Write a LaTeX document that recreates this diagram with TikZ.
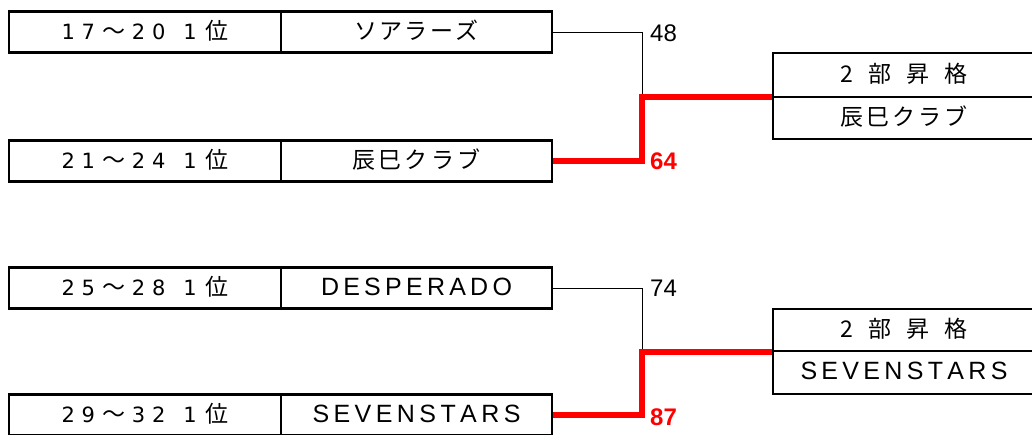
\documentclass[tikz,border=0pt]{standalone}
\usepackage{fontspec}
\setmainfont{Liberation Sans}
\newfontfamily\jpf{Noto Sans CJK JP}
\newfontfamily\dvf{DejaVu Sans}
\newcommand\J[1]{{\jpf\fontsize{23}{23}\selectfont #1}}
\newcommand\spread[2]{\makebox[#1pt][s]{#2}}
\def\g{\hfil\relax}
\begin{document}
\begin{tikzpicture}[x=1pt,y=-1pt,
  cell/.style={draw=black, line width=2.5pt, minimum height=41pt, inner sep=0pt,
    font=\fontsize{25}{25}\selectfont, text height=15pt, text depth=1pt},
  rank/.style={cell, minimum width=272pt, font=\dvf\fontsize{21}{21}\selectfont},
  team/.style={cell, minimum width=271pt},
  res/.style={cell, minimum width=262pt},
  thinline/.style={draw=black, line width=1pt},
  win/.style={draw=red, line width=5.5pt},
  score/.style={font=\fontsize{24}{24}\selectfont, anchor=west, inner sep=0pt},
  wscore/.style={score, text=red, font=\bfseries\fontsize{24}{24}\selectfont},
]
\useasboundingbox (0,0) rectangle (1032,434);

% ---- upper bracket
\node[rank] (r1) at (145,32) {\spread{104}{1\g 7\g \J{〜}\g 2\g 0}\hspace{18pt}\spread{45}{1\g \J{位}}};
\node[team] (t1) at (416.5,32) {\spread{125}{\J{ソ\g ア\g ラ\g ー\g ズ}}};
\node[rank] (r2) at (145,161) {\spread{104}{2\g 1\g \J{〜}\g 2\g 4}\hspace{18pt}\spread{45}{1\g \J{位}}};
\node[team] (t2) at (416.5,161) {\spread{129}{\J{辰\g 巳\g ク\g ラ\g ブ}}};
\node[res, minimum height=44pt] (p1) at (904,75) {\spread{127}{\J{2\g 部\g 昇\g 格}}};
\node[res, minimum height=42pt] (w1) at (904,118) {\spread{127}{\J{辰\g 巳\g ク\g ラ\g ブ}}};
\coordinate (j1) at (642,97);
\draw[thinline] (t1.east) -| (j1);
\draw[win] (t2.east) -| (j1) -- (j1 -| p1.west);
\node[score] (s1) at (650,33.5) {48};
\node[wscore] (s2) at (650,161.5) {64};

% ---- lower bracket
\node[rank] (r3) at (145,288) {\spread{104}{2\g 5\g \J{〜}\g 2\g 8}\hspace{18pt}\spread{45}{1\g \J{位}}};
\node[team] (t3) at (416.5,288) {\spread{191}{D\g E\g S\g P\g E\g R\g A\g D\g O}};
\node[rank] (r4) at (145,415) {\spread{104}{2\g 9\g \J{〜}\g 3\g 2}\hspace{18pt}\spread{45}{1\g \J{位}}};
\node[team] (t4) at (416.5,415) {\spread{208}{S\g E\g V\g E\g N\g S\g T\g A\g R\g S}};
\node[res, minimum height=42pt] (p2) at (904,330) {\spread{127}{\J{2\g 部\g 昇\g 格}}};
\node[res, minimum height=43pt] (w2) at (904,372.5) {\spread{207}{S\g E\g V\g E\g N\g S\g T\g A\g R\g S}};
\coordinate (j2) at (642,352);
\draw[thinline] (t3.east) -| (j2);
\draw[win] (t4.east) -| (j2) -- (j2 -| p2.west);
\node[score] (s3) at (650,288) {74};
\node[wscore] (s4) at (650,417) {87};
\end{tikzpicture}
\end{document}
